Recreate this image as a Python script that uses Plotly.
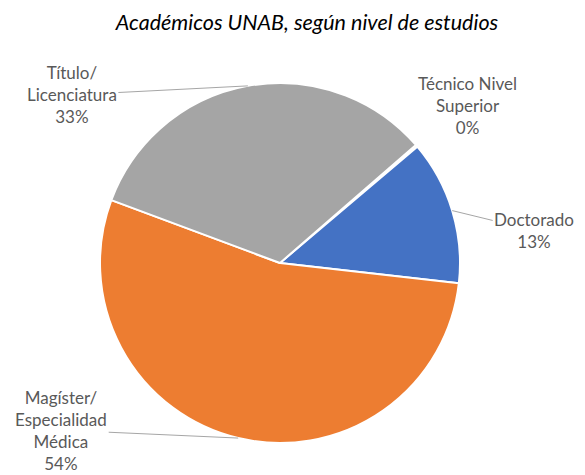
import math
import plotly.graph_objects as go

categories = ["Técnico Nivel Superior", "Doctorado", "Magíster/ Especialidad Médica", "Título/ Licenciatura"]
label_texts = ["Técnico Nivel<br>Superior", "Doctorado", "Magíster/<br>Especialidad<br>Médica", "Título/<br>Licenciatura"]
values = [0.2, 13, 54, 33]
colors = ["#FFC000", "#4472C4", "#ED7D31", "#A5A5A5"]

W, H = 585, 475
OFF = 8  # page body margin
CX, CY, R = 280, 263, 180
ROT = 49


def px2x(px):
    return (px - OFF) / W


def py2y(py):
    return 1 - (py - OFF) / H


fig = go.Figure(go.Pie(
    labels=categories, values=values, sort=False, direction="clockwise",
    rotation=ROT, textinfo="none", hoverinfo="label+percent",
    marker=dict(colors=colors, line=dict(color="white", width=2)),
    domain=dict(x=[px2x(CX - R), px2x(CX + R)], y=[py2y(CY + R), py2y(CY - R)]),
    showlegend=False,
))

# label offsets (pixels) from slice mid-point on the rim to label centre
offsets = [(51, -40), (82, 20), (-177, -8), (-176, 9)]
arrows = [False, True, True, True]
font = dict(family="Lato", size=17, color="#595959")
total = sum(values)
start = ROT
annotations = []
for txt, v, (ox, oy), arr in zip(label_texts, values, offsets, arrows):
    span = v / total * 360
    mid = math.radians(start + span / 2)
    start += span
    px = CX + R * math.sin(mid)
    py = CY - R * math.cos(mid)
    pct = round(v / total * 100)
    text = f"{txt}<br>{pct}%"
    if arr:
        annotations.append(dict(
            x=px2x(px), y=py2y(py), xref="paper", yref="paper", text=text,
            showarrow=True, arrowhead=0, arrowwidth=1, arrowcolor="#A6A6A6",
            ax=ox, ay=oy, font=font, align="center"))
    else:
        annotations.append(dict(
            x=px2x(px + ox), y=py2y(py + oy), xref="paper", yref="paper", text=text,
            xanchor="center", yanchor="middle",
            showarrow=False, font=font, align="center"))

fig.update_layout(
    width=W, height=H, margin=dict(l=0, r=0, t=0, b=0),
    paper_bgcolor="white", plot_bgcolor="white",
    title=dict(text="<i>Académicos UNAB, según nivel de estudios</i>", x=px2x(307), xanchor="center",
               y=py2y(22), yanchor="middle",
               font=dict(family="Lato", size=21.5, color="#000000")),
    annotations=annotations,
)
fig.write_html("out.html")
